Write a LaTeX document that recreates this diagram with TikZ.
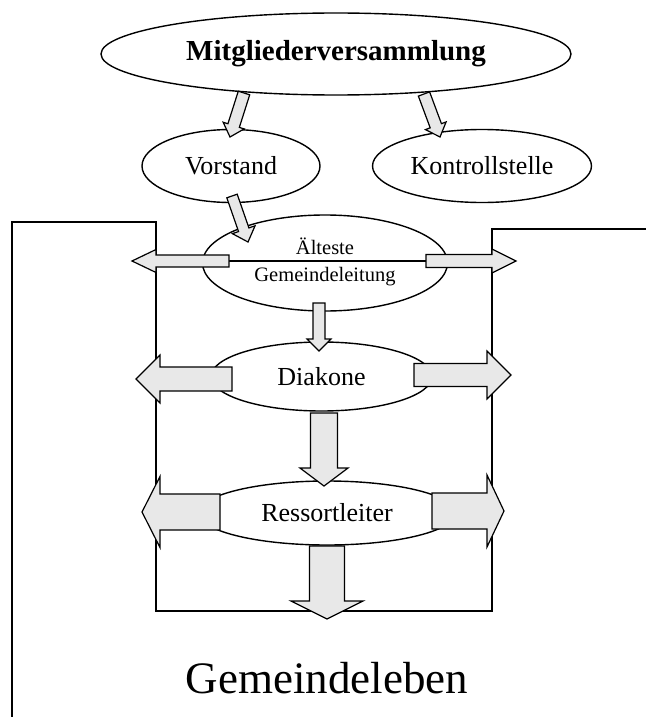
\documentclass[tikz,border=0pt]{standalone}
\usepackage{fontspec}
\setmainfont{Liberation Serif}
\usetikzlibrary{shapes.geometric,calc}
\newcommand{\setfs}[2]{\fontsize{#1}{#2}\selectfont}
% block arrow: start, tip, half shaft width, half head width, head length
\newcommand{\blockarrow}[5]{%
  \coordinate (ba-h) at ($(#2)!#5!(#1)$);
  \draw[barrowstyle] ($(#1)!#3!90:(#2)$) -- ($(ba-h)!#3!-90:(#1)$) -- ($(ba-h)!#4!-90:(#1)$) -- (#2)
    -- ($(ba-h)!#4!90:(#1)$) -- ($(ba-h)!#3!90:(#1)$) -- ($(#1)!#3!-90:(#2)$) -- cycle;}
\tikzset{
  oval/.style={draw, ellipse, line width=1.4pt, inner sep=0pt, fill=white},
  barrowstyle/.style={line width=1.2pt, fill=black!9, line join=miter},
  frame/.style={line width=1.4pt},
}
\begin{document}
\begin{tikzpicture}[x=1pt,y=-1pt]
\useasboundingbox (0,0) rectangle (652,717);
% frame lines
\coordinate (lb1) at (12,717);
\coordinate (lb2) at (12,222);
\coordinate (ib1) at (156,222);
\coordinate (ib2) at (156,611);
\coordinate (ib3) at (492,611);
\coordinate (ib4) at (492,229);
\coordinate (rb1) at (646,229);
\draw[frame] (lb1) -- (lb2) -- (ib1) -- (ib2) -- (ib3) -- (ib4) -- (rb1);
% nodes
\node[oval, minimum width=470pt, minimum height=82pt] (mv) at (336,54) {\setfs{29}{29}\bfseries Mitgliederversammlung};
\node[oval, minimum width=178pt, minimum height=73pt] (vor) at (231,166) {\setfs{26}{26}Vorstand};
\node[oval, minimum width=219pt, minimum height=73pt] (kon) at (482,166) {\setfs{26}{26}Kontrollstelle};
\node[oval, minimum width=245pt, minimum height=96pt] (alt) at (325,263) {};
\node[align=center, inner sep=0pt, font=\setfs{20.5}{27}] (alttext) at (325,262) {Älteste\\Gemeindeleitung};
\node[oval, minimum width=221pt, minimum height=69pt] (dia) at (321.5,376.5) {\setfs{26}{26}Diakone};
\node[oval, minimum width=257pt, minimum height=64pt] (res) at (327,513) {\setfs{26}{26}Ressortleiter};
\node[inner sep=0pt] (gl) at (327,678) {\setfs{45}{45}Gemeindeleben};
% arrow end points
\coordinate (a1s) at (244,93);   \coordinate (a1e) at (230,137);
\coordinate (a2s) at (424,94);   \coordinate (a2e) at (440,137);
\coordinate (a3s) at (232,196);  \coordinate (a3e) at (248,242);
\coordinate (a4s) at (229,261);  \coordinate (a4e) at (132,261);
\coordinate (a5s) at (426,261);  \coordinate (a5e) at (516,261);
\coordinate (a6s) at (319,303);  \coordinate (a6e) at (319,351);
\coordinate (a7s) at (232,379);  \coordinate (a7e) at (136,379);
\coordinate (a8s) at (414,375);  \coordinate (a8e) at (511,375);
\coordinate (a9s) at (324,413);  \coordinate (a9e) at (324,486);
\coordinate (a10s) at (220,512); \coordinate (a10e) at (142,512);
\coordinate (a11s) at (432,511); \coordinate (a11e) at (504,511);
\coordinate (a12s) at (327,546); \coordinate (a12e) at (327,619);
% thin line through Älteste
\draw[line width=1.2pt] (a4s) -- (a5s);
% block arrows
\blockarrow{a1s}{a1e}{6pt}{11pt}{12pt}
\blockarrow{a2s}{a2e}{6pt}{11pt}{12pt}
\blockarrow{a3s}{a3e}{5.5pt}{12pt}{13pt}
\blockarrow{a4s}{a4e}{6pt}{11.5pt}{24pt}
\blockarrow{a5s}{a5e}{6.5pt}{12pt}{24pt}
\blockarrow{a6s}{a6e}{6pt}{12pt}{12pt}
\blockarrow{a7s}{a7e}{12pt}{24pt}{24pt}
\blockarrow{a8s}{a8e}{11.5pt}{24pt}{24pt}
\blockarrow{a9s}{a9e}{13.5pt}{24pt}{18pt}
\blockarrow{a10s}{a10e}{18pt}{35.5pt}{18pt}
\blockarrow{a11s}{a11e}{18pt}{36pt}{17pt}
\blockarrow{a12s}{a12e}{17.5pt}{36pt}{18pt}
\end{tikzpicture}
\end{document}
